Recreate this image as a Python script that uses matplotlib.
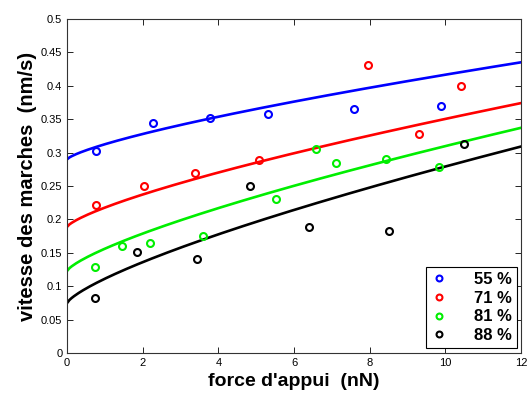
import numpy as np
import matplotlib.pyplot as plt
from matplotlib.ticker import FormatStrFormatter

plt.rcParams['font.family'] = ['Liberation Sans', 'DejaVu Sans']

labels = ["55 %", "71 %", "81 %", "88 %"]
colors = ["#0000ff", "#ff0000", "#00ee00", "#000000"]

# measured points
x_55 = [0.77, 2.28, 3.78, 5.32, 7.59, 9.87]
y_55 = [0.302, 0.344, 0.352, 0.357, 0.365, 0.370]
x_71 = [0.77, 2.02, 3.39, 5.08, 7.96, 9.29, 10.42]
y_71 = [0.221, 0.250, 0.269, 0.289, 0.431, 0.328, 0.400]
x_81 = [0.73, 1.46, 2.18, 3.60, 5.53, 6.59, 7.10, 8.44, 9.84]
y_81 = [0.129, 0.160, 0.165, 0.175, 0.231, 0.305, 0.285, 0.290, 0.278]
x_88 = [0.74, 1.85, 3.43, 4.84, 6.40, 8.52, 10.48]
y_88 = [0.083, 0.151, 0.140, 0.250, 0.188, 0.182, 0.313]

# fitted curves  v = a + b * F^p
fit_a = [0.290, 0.189, 0.123, 0.075]
fit_b = [0.0225, 0.0287, 0.0332, 0.0363]
fit_p = 0.75

xs = [x_55, x_71, x_81, x_88]
ys = [y_55, y_71, y_81, y_88]

fig = plt.figure(figsize=(5.29, 3.94), dpi=100)
ax = fig.add_axes([0.127, 0.104, 0.858, 0.848])

F = np.linspace(0, 12, 200)
for a, b, c in zip(fit_a, fit_b, colors):
    ax.plot(F, a + b * F ** fit_p, color=c, lw=1.9)

for x, y, c, lab in zip(xs, ys, colors, labels):
    ax.plot(x, y, 'o', mfc='none', mec=c, mew=1.5, ms=5, label=lab)

ax.set_xlim(0, 12)
ax.set_ylim(0, 0.5)
ax.set_xticks(np.arange(0, 13, 2))
ax.set_yticks(np.arange(0, 0.51, 0.05))
ax.yaxis.set_major_formatter(FormatStrFormatter('%g'))
ax.tick_params(direction='in', top=True, right=True, labelsize=8, length=4, width=0.6)
for s in ax.spines.values():
    s.set_linewidth(0.8)
    s.set_color('#333333')

ax.set_xlabel("force d'appui  (nN)", fontsize=14, fontweight='bold', labelpad=4)
ax.set_ylabel("vitesse des marches  (nm/s)", fontsize=14.5, fontweight='bold', labelpad=3)

leg = ax.legend(loc='lower right', prop={'weight': 'bold', 'size': 12}, markerscale=0.85,
                fancybox=False, edgecolor='black', framealpha=1, handlelength=1.0,
                handletextpad=1.6, borderpad=0.3, labelspacing=0.22,
                borderaxespad=0, bbox_to_anchor=(0.991, 0.015))
leg.get_frame().set_linewidth(0.8)

fig.savefig('out.png', dpi=100)
